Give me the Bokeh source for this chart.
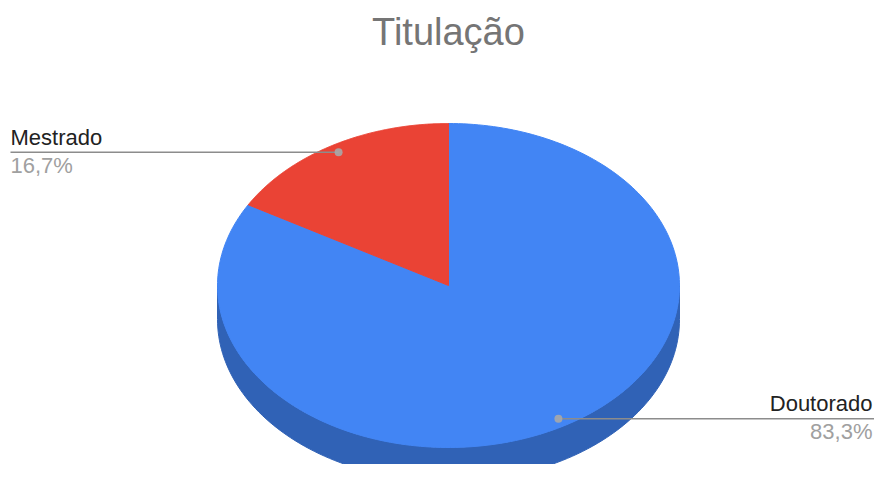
import numpy as np
from bokeh.plotting import figure
from bokeh.models import Range1d
from bokeh.core.properties import value
from bokeh.embed import file_html
from bokeh.resources import INLINE

# ---- data ----
title_text = "Titulação"
labels = ["Doutorado", "Mestrado"]
values = [83.3, 16.7]
top_colors = ["#4285F4", "#EA4335"]
side_colors = ["#3062B6", "#B0342A"]

# ---- geometry (pixel-like data coords, y downward) ----
CX, CY, RX, RY, DEPTH = 448, 285, 231, 162, 34
START = 90.0  # 12 o'clock, slices run clockwise
FONT = value("Liberation Sans")
W, H = 874, 464

p = figure(width=W, height=H,
           x_range=Range1d(0, W), y_range=Range1d(H, 0),
           output_backend="svg", toolbar_location=None,
           x_axis_type=None, y_axis_type=None, min_border=0)
p.grid.visible = False
p.outline_line_color = None
p.background_fill_color = "white"
p.border_fill_color = "white"


def pt(theta, r=1.0, dy=0.0):
    t = np.radians(theta)
    return CX + r * RX * np.cos(t), CY + dy - r * RY * np.sin(t)


fr = np.array(values, dtype=float) / float(sum(values))
cum = np.concatenate([[0.0], np.cumsum(fr)])
intervals = [(START - 360 * cum[i + 1], START - 360 * cum[i]) for i in range(len(values))]

# side walls (visible front half: -180..0 deg)
sxs, sys, scol = [], [], []
for (lo, hi), c in zip(intervals, side_colors):
    for k in (-1, 0, 1):
        a = max(lo + 360 * k, -180.0)
        b = min(hi + 360 * k, 0.0)
        if b > a:
            th = np.linspace(a, b, 120)
            xt, yt = pt(th)
            xb, yb = pt(th[::-1], dy=DEPTH)
            sxs.append(list(np.concatenate([xt, xb])))
            sys.append(list(np.concatenate([yt, yb])))
            scol.append(c)
if sxs:
    p.patches(sxs, sys, fill_color=scol, line_color=scol, line_width=1)

# top faces
txs, tys = [], []
for (lo, hi) in intervals:
    th = np.linspace(lo, hi, 240)
    x, y = pt(th)
    txs.append([CX] + list(x))
    tys.append([CY] + list(y))
p.patches(txs, tys, fill_color=top_colors, line_color=top_colors, line_width=1)

# leader lines + labels
LFS = "22px"
for (lo, hi), lab, f in zip(intervals, labels, fr):
    mid = (lo + hi) / 2.0
    dx, dy = pt(mid, r=0.95)
    pct = f"{f * 100:.1f}".replace(".", ",") + "%"
    if np.cos(np.radians(mid)) < 0:
        xl, al = 10, "left"
        p.line([xl, dx], [dy, dy], line_color="#8C8C8C", line_width=1.6)
    else:
        xl, al = W - 2, "right"
        p.line([dx, W], [dy, dy], line_color="#8C8C8C", line_width=1.6)
    p.text([xl], [dy - 15], text=[lab], text_font=FONT, text_font_size=LFS,
           text_color="#222222", text_align=al, text_baseline="alphabetic")
    p.text([xl], [dy + 13], text=[pct], text_font=FONT, text_font_size=LFS,
           text_color="#A0A0A0", text_align=al, text_baseline="alphabetic")
    p.scatter([dx], [dy], size=8, fill_color="#A8A8A8", line_color=None, fill_alpha=0.9)

# title
p.text([448], [31], text=[title_text], text_font=FONT, text_font_size="38px",
       text_color="#757575", text_align="center", text_baseline="alphabetic")

open("out.html", "w").write(file_html(p, INLINE))
